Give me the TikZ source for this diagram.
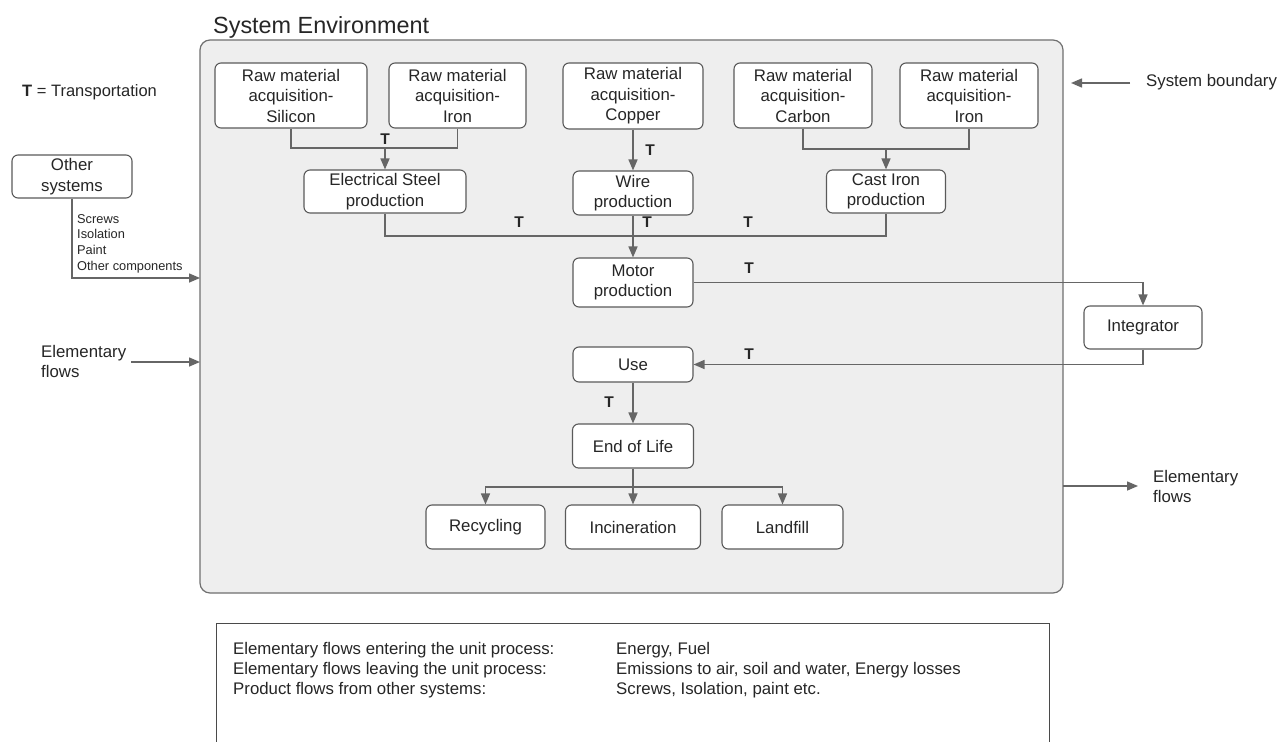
\documentclass[tikz,border=0pt]{standalone}
\usepackage{fontspec}
\setmainfont{Liberation Sans}
\usetikzlibrary{arrows.meta}
\definecolor{linec}{HTML}{666666}
\definecolor{boxc}{HTML}{5A5A5A}
\definecolor{bordc}{HTML}{707070}
\definecolor{legc}{HTML}{4A4A4A}
\definecolor{txt}{HTML}{262626}
\definecolor{envfill}{HTML}{EEEEEE}
\begin{document}
\begin{tikzpicture}[x=1pt,y=-1pt,
  every node/.style={text=txt},
  box/.style={draw=boxc, fill=white, rounded corners=6pt, line width=1.1pt,
    align=center, inner sep=1pt, font=\fontsize{16.8}{20.5}\selectfont},
  flow/.style={draw=linec, line width=1.5pt},
  arr/.style={flow, -{Triangle[length=11pt,width=9pt]}},
  tlab/.style={font=\fontsize{15.5}{18}\selectfont\bfseries, inner sep=0pt},
  plain/.style={font=\fontsize{16.8}{20.5}\selectfont, align=left, inner sep=0pt},
  small/.style={font=\fontsize{12.8}{15.7}\selectfont, align=left, inner sep=0pt},
  legtext/.style={font=\fontsize{16.8}{20}\selectfont, align=left, inner sep=0pt, anchor=west}
]
\useasboundingbox (0,0) rectangle (1281,741);
\fill[white] (0,0) rectangle (1281,741);
\clip (0,0) rectangle (1281,741);

% system boundary
\node[draw=bordc, fill=envfill, rounded corners=10pt, line width=1.2pt,
  minimum width=863pt, minimum height=553pt, inner sep=0pt] (sys) at (631.5,316.5) {};
\node[font=\fontsize{23.4}{26}\selectfont, inner sep=0pt, anchor=base west] (title) at (213,34) {System Environment};

% raw material acquisition
\node[box, minimum width=152pt, minimum height=65pt] (sil) at (291,95.5) {Raw material\\acquisition-\\Silicon};
\node[box, minimum width=137pt, minimum height=65pt] (ir1) at (457.5,95.5) {Raw material\\acquisition-\\Iron};
\node[box, minimum width=140pt, minimum height=66pt] (cop) at (633,96) {Raw material\\acquisition-\\Copper};
\node[box, minimum width=138pt, minimum height=65pt] (car) at (803,95.5) {Raw material\\acquisition-\\Carbon};
\node[box, minimum width=138pt, minimum height=65pt] (ir2) at (969,95.5) {Raw material\\acquisition-\\Iron};

% production steps
\node[box, minimum width=162pt, minimum height=43pt] (es) at (385,191.5) {Electrical Steel\\production};
\node[box, minimum width=120pt, minimum height=44pt] (wire) at (633,193) {Wire\\production};
\node[box, minimum width=119pt, minimum height=43pt] (ci) at (886,191.5) {Cast Iron\\production};
\node[box, minimum width=120pt, minimum height=49pt] (motor) at (633,282.5) {Motor\\production};
\node[box, minimum width=118pt, minimum height=43pt] (integ) at (1143,327.5) {Integrator};
\node[box, minimum width=120pt, minimum height=35pt] (use) at (633,364.5) {Use};
\node[box, minimum width=121pt, minimum height=44pt] (eol) at (633,446) {End of Life};
\node[box, minimum width=119pt, minimum height=44pt] (rec) at (485.5,527) {Recycling};
\node[box, minimum width=135pt, minimum height=44pt] (inc) at (633,527) {Incineration};
\node[box, minimum width=121pt, minimum height=44pt] (land) at (782.5,527) {Landfill};

% outside the boundary
\node[box, minimum width=120pt, minimum height=43pt] (other) at (72,176.5) {Other\\systems};
\node[small, anchor=west] (parts) at (77,243.5) {Screws\\Isolation\\Paint\\Other components};
\node[inner sep=0pt, anchor=base west, font=\fontsize{16.5}{20}\selectfont] (tdef) at (22,97) {\textbf{T} = Transportation};
\node[plain, anchor=west] (elin) at (41,361.5) {Elementary\\flows};
\node[plain, anchor=west] (elout) at (1153,486.5) {Elementary\\flows};
\node[plain, anchor=west] (sblab) at (1146,82) {System boundary};

% junction points
\coordinate (j1) at (385,148);
\coordinate (j2) at (886,149);
\coordinate (j3) at (633,236);
\coordinate (j4) at (633,487);
\coordinate (inA) at (200,278);
\coordinate (inBs) at (131,362);
\coordinate (inB) at (200,362);
\coordinate (outAs) at (1063,486);
\coordinate (outA) at (1138,486);
\coordinate (sbs) at (1130,83);
\coordinate (sbe) at (1071,83);

% material flows
\draw[flow] (sil.south) |- (j1) -| (ir1.south);
\draw[arr] (j1) -- (es.north);
\draw[arr] (cop.south) -- (wire.north);
\draw[flow] (car.south) |- (j2) -| (ir2.south);
\draw[arr] (j2) -- (ci.north);
\draw[flow] (es.south) |- (j3) -| (ci.south);
\draw[arr] (wire.south) -- (motor.north);
\draw[arr] (motor.east) -| (integ.north);
\draw[arr] (integ.south) |- (use.east);
\draw[arr] (use.south) -- (eol.north);
\draw[arr] (eol.south) -- (inc.north);
\draw[arr] (j4) -| (rec.north);
\draw[arr] (j4) -| (land.north);

% flows across the boundary
\draw[arr] (other.south) |- (inA);
\draw[arr] (inBs) -- (inB);
\draw[arr] (outAs) -- (outA);
\draw[arr] (sbs) -- (sbe);

% transport labels
\node[tlab] (t1) at (385,139) {T};
\node[tlab] (t2) at (650,150) {T};
\node[tlab] (t3) at (519,222) {T};
\node[tlab] (t4) at (647,222) {T};
\node[tlab] (t5) at (748,222) {T};
\node[tlab] (t6) at (749,268) {T};
\node[tlab] (t7) at (749,354) {T};
\node[tlab] (t8) at (609,402) {T};

% legend
\node[draw=legc, line width=1.3pt, minimum width=833pt, minimum height=140pt,
  inner sep=0pt, anchor=north west] (legend) at (216,623) {};
\node[legtext] (legl) at (233,670.5) {Elementary flows entering the unit process:\\Elementary flows leaving the unit process:\\Product flows from other systems:};
\node[legtext] (legr) at (616,670.5) {Energy, Fuel\\Emissions to air, soil and water, Energy losses\\Screws, Isolation, paint etc.};
\end{tikzpicture}
\end{document}
